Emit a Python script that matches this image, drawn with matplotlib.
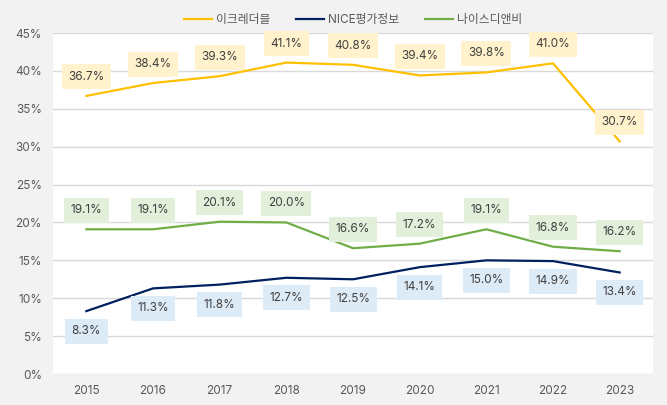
import matplotlib
matplotlib.use("Agg")
import matplotlib.pyplot as plt
from matplotlib.ticker import FuncFormatter

plt.rcParams["font.family"] = ["Inter", "Noto Sans CJK KR", "DejaVu Sans"]

years = ["2015", "2016", "2017", "2018", "2019", "2020", "2021", "2022", "2023"]
ecredible = [36.7, 38.4, 39.3, 41.1, 40.8, 39.4, 39.8, 41.0, 30.7]
nice_rating = [8.3, 11.3, 11.8, 12.7, 12.5, 14.1, 15.0, 14.9, 13.4]
nice_dnb = [19.1, 19.1, 20.1, 20.0, 16.6, 17.2, 19.1, 16.8, 16.2]

series = [
    ("이크레더블", ecredible, "#FFC000", "#FFF2CC", 19),
    ("NICE평가정보", nice_rating, "#002060", "#DDEBF7", -20),
    ("나이스디앤비", nice_dnb, "#70AD47", "#E2EFDA", 19),
]

fig = plt.figure(figsize=(6.67, 4.05), dpi=100, facecolor="#F2F2F2")
ax = fig.add_axes([0.0795, 0.0765, 0.8995, 0.842])
ax.set_facecolor("white")

x = list(range(len(years)))
for name, vals, color, fill, off in series:
    ax.plot(x, vals, color=color, linewidth=1.6, label=name)
    for xi, v in zip(x, vals):
        ax.annotate(f"{v:.1f}%", (xi, v), xytext=(0, off), textcoords="offset pixels",
                    ha="center", va="center", fontsize=8.5, color="#404040",
                    bbox=dict(boxstyle="square,pad=0.55", fc=fill, ec="none"))

ax.set_xlim(-0.5, len(years) - 0.5)
ax.set_ylim(0, 45)
ax.set_yticks(range(0, 46, 5))
ax.yaxis.set_major_formatter(FuncFormatter(lambda v, p: f"{v:.0f}%"))
ax.set_xticks(x)
ax.set_xticklabels(years)
ax.grid(axis="y", color="#D9D9D9", linewidth=1)
ax.set_axisbelow(True)
for s in ax.spines.values():
    s.set_visible(False)
ax.tick_params(length=0, labelsize=8.5, colors="#595959", pad=8)

ax.legend(loc="lower center", bbox_to_anchor=(0.5, 1.0), ncol=3, frameon=False,
          fontsize=8.5, labelcolor="#595959", handlelength=2.4, columnspacing=2.2,
          handletextpad=0.3, borderaxespad=0.2)

fig.savefig("out.png", dpi=100, facecolor=fig.get_facecolor())
